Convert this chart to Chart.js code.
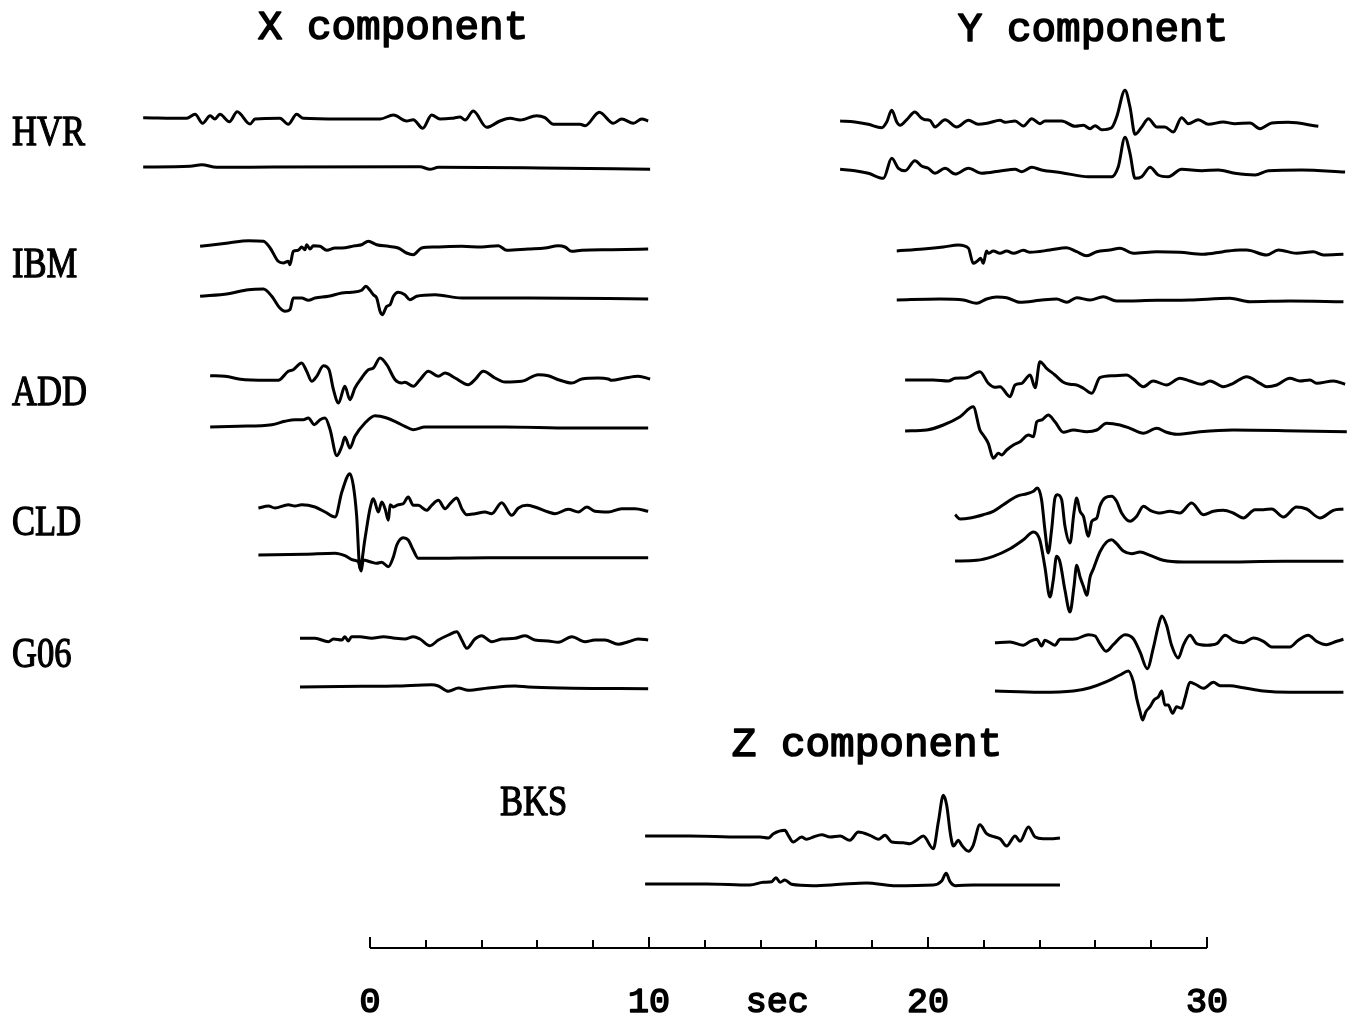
<html>
<head>
  <meta charset="utf-8">
  <title>Seismograms: observed vs synthetic</title>
  <script src="https://cdn.jsdelivr.net/npm/chart.js"></script>
  <style>
    body { margin: 0; background: white; }
    #wrap { width: 1347px; height: 1029px; position: relative; }
  </style>
</head>
<body>
<div id="wrap"><canvas id="seis"></canvas></div>
<script>
// time in sec, amplitude (arbitrary units, up = positive)
// each station: observed (upper) and synthetic (lower) trace

// ---- X component ----
const hvrXObs = [[-8.13,0.3],[-6.57,-0.3],[-6.27,3.7],[-6.00,-5.3],[-5.73,2.3],[-5.56,-1],[-5.38,3.7],[-5.04,-3.7],[-4.76,6.3],[-4.30,-6],[-4.12,-1],[-3.23,-0.3],[-2.93,-6.3],[-2.63,3.7],[-2.39,-0.3],[-1.08,-1],[0.36,-1],[0.84,3],[1.31,-3],[1.55,-1.7],[1.89,-10.3],[2.21,3],[2.51,-1],[2.93,-0.3],[3.23,1],[3.41,-2],[3.70,7],[4.18,-9.3],[4.66,-3],[5.02,-0.3],[5.38,-2],[5.97,2.3],[6.27,0.3],[6.57,-6.3],[7.53,-6.3],[7.71,-7.7],[8.22,5.7],[8.72,-5.3],[9.02,-1],[9.44,-5.3],[9.74,-1],[9.97,-3]];
const hvrXSyn = [[-8.13,0],[-6.45,0.7],[-6.03,2.3],[-5.50,-0.3],[-3.47,0],[1.79,0.3],[2.15,-2.3],[2.45,-0.3],[6.09,-1],[10.04,-2.3]];

const ibmXObs = [[-6.09,1.7],[-5.08,5],[-4.36,7.3],[-3.82,6.7],[-3.58,0],[-3.29,-13.3],[-3.11,-15],[-2.93,-13.3],[-2.87,-16.7],[-2.75,-3.3],[-2.57,-2.3],[-2.45,1],[-2.33,-1.7],[-2.27,3.3],[-2.15,-1],[-2.03,2.3],[-1.79,1.7],[-1.55,-2.3],[-1.25,0],[-1.01,0],[-0.54,2.3],[-0.30,3.3],[-0.06,6.7],[0.24,3.3],[0.66,1.7],[1.01,0],[1.31,-5],[1.55,-6.7],[1.85,0],[2.33,1],[3.29,1.7],[4.00,1],[4.60,2.3],[4.90,-2.3],[5.67,-1],[6.27,0],[6.75,2.3],[6.99,1],[7.23,-3.3],[7.59,-2.3],[8.66,-1.7],[9.97,-1]];
const ibmXSyn = [[-6.09,1.7],[-5.08,4.3],[-4.36,8.3],[-3.82,9],[-3.52,1.7],[-3.23,-10],[-3.05,-13.3],[-2.87,-11.7],[-2.75,0],[-2.45,0],[-2.21,-2.3],[-1.97,0],[-1.49,1.7],[-1.01,5],[-0.66,5.7],[-0.30,7.7],[-0.15,11.7],[0.00,7.7],[0.12,3.3],[0.24,0],[0.36,-13.3],[0.44,-16.7],[0.60,-8.3],[0.72,-6.7],[0.84,1.7],[1.01,5.7],[1.25,3.3],[1.43,-1.7],[1.67,1.7],[2.33,3.3],[3.29,0],[4.48,0],[5.67,0],[9.97,-1]];

const addXObs = [[-5.73,2.3],[-5.20,1.7],[-4.48,-1.7],[-3.29,-2.3],[-2.93,6.7],[-2.75,8.3],[-2.45,15],[-2.27,6.7],[-2.09,-3.3],[-1.91,1.7],[-1.67,12.3],[-1.47,8.3],[-1.31,-11.7],[-1.13,-25],[-0.90,-8.3],[-0.72,-21.7],[-0.54,-10],[-0.30,0],[-0.06,8.3],[0.12,10],[0.36,20],[0.60,13.3],[0.90,-1.7],[1.14,-5],[1.25,-4.3],[1.55,-8.3],[1.79,-1.7],[2.09,6.7],[2.45,1.7],[2.69,5],[3.05,0],[3.52,-6.7],[3.76,-1.7],[4.06,6.7],[4.48,0],[4.84,-4],[5.44,-3.3],[6.03,3.3],[6.39,2.3],[6.75,-1.7],[7.23,-5],[7.59,-1],[8.18,0],[8.54,-1],[8.66,-2.3],[9.14,0],[9.62,1.7],[10.04,-1]];
const addXSyn = [[-5.73,0],[-4.72,0.7],[-3.52,2.3],[-3.05,5.7],[-2.69,7.3],[-2.39,7.3],[-2.21,9],[-2.00,2.3],[-1.79,7.3],[-1.61,9],[-1.43,-2.7],[-1.19,-28.7],[-1.01,-19.3],[-0.90,-10],[-0.72,-21],[-0.54,-9.3],[-0.18,4],[0.18,11.3],[0.60,9],[0.96,4.7],[1.25,0.7],[1.55,-2.7],[1.97,0],[3.05,0],[4.84,0],[7.23,-1],[9.97,-1]];

const cldXObs = [[-4.00,-1],[-3.64,1],[-3.41,-1],[-2.93,2.3],[-2.69,1],[-2.45,2.3],[-1.97,0],[-1.61,-5],[-1.25,-10],[-1.01,15],[-0.72,33.3],[-0.60,21.7],[-0.48,-8.3],[-0.36,-61.7],[-0.18,-31.7],[0.00,-1.7],[0.12,8.3],[0.30,-5],[0.42,5],[0.54,-1.7],[0.66,-13.3],[0.72,2.3],[0.84,0],[1.01,2.3],[1.19,3.3],[1.37,10],[1.55,1.7],[1.73,1.7],[2.03,-3.3],[2.21,1.7],[2.45,6.7],[2.69,-1.7],[2.87,3.3],[3.11,9],[3.29,-1.7],[3.47,-7.7],[3.76,-6.7],[4.12,-5],[4.36,-6.7],[4.72,4.3],[5.08,-8.3],[5.32,-1],[5.62,1.7],[5.91,0],[6.39,-5],[6.63,-6.7],[7.11,-2.3],[7.47,-5],[7.77,0],[8.06,-4.3],[8.54,-5],[9.02,-1.7],[9.50,-1.7],[9.97,-4.3]];
const cldXSyn = [[-4.00,0],[-2.33,0.7],[-1.25,1.7],[-0.90,-0.7],[-0.60,-5],[-0.42,-6.7],[-0.32,-16],[-0.24,-5],[0.00,-6.7],[0.24,-8.3],[0.42,-7.3],[0.66,-11.7],[0.84,-1.7],[0.96,10],[1.19,17.3],[1.37,15],[1.55,5],[1.73,-3.3],[2.09,-3.3],[4.24,-2.7],[9.97,-2.7]];

const g06XObs = [[-2.51,0.7],[-1.97,0.7],[-1.49,-2.7],[-1.31,0],[-1.01,-1],[-0.90,2.3],[-0.78,-2],[-0.66,2.3],[-0.36,2.3],[0.06,0.7],[0.48,2.3],[0.90,0.7],[1.25,0],[1.55,2.3],[1.79,0],[2.15,-6.7],[2.45,-1],[2.81,4],[3.11,7.3],[3.29,-1],[3.47,-9.3],[3.76,0],[4.00,3.3],[4.36,-2.7],[4.72,0],[5.20,0.7],[5.56,3.3],[5.91,-1],[6.39,-2],[6.75,-3.3],[7.23,2.3],[7.71,-2.7],[8.06,-1],[8.42,-1],[8.90,-5.3],[9.26,-2.7],[9.62,0],[9.97,-1]];
const g06XSyn = [[-2.51,0],[-0.30,0.7],[0.90,1],[2.21,2.3],[2.45,1],[2.81,-4.3],[3.17,-1],[3.52,-3.3],[4.24,-1],[5.20,1],[5.67,0],[6.87,-1],[9.97,-1.7]];

// ---- Y component ----
const hvrYObs = [[16.85,1],[17.38,0],[17.86,-2.3],[18.34,-5.7],[18.52,0],[18.70,11.7],[18.88,0],[19.00,-3.3],[19.24,2.3],[19.53,10],[19.75,4.3],[19.89,2.3],[20.07,1.7],[20.25,-5],[20.61,2.3],[21.03,-5],[21.45,1.7],[21.80,-2.3],[22.16,-1],[22.58,1.7],[22.76,-0.3],[23.12,1],[23.42,-4],[23.72,3.3],[24.01,-1.7],[24.19,1],[24.79,1],[25.27,-4.3],[25.57,-3.3],[25.81,-6.7],[25.99,-3.7],[26.22,-7.7],[26.58,-5.7],[26.76,5],[27.06,31.7],[27.24,15],[27.42,-12.3],[27.66,-5],[27.90,3.3],[28.20,-5],[28.49,-5],[28.79,-10],[29.09,4.3],[29.33,-1.7],[29.69,2.3],[30.05,-2.3],[30.58,0],[31.00,-1.7],[31.54,-1],[31.90,-6.7],[32.32,-1],[32.91,-0.3],[33.99,-4.3]];
const hvrYSyn = [[16.85,0.7],[17.38,-0.7],[17.86,-3.3],[18.40,-8.3],[18.70,11.7],[18.94,1.7],[19.18,-0.7],[19.53,9.3],[19.77,4],[20.01,1.7],[20.25,-3.3],[20.61,1.7],[20.97,-4],[21.45,1.7],[21.92,-3.3],[22.64,-0.7],[23.12,0.7],[23.36,-1.7],[23.72,2.7],[24.07,0],[24.79,-2.7],[25.75,-6.7],[26.58,-6.7],[26.82,3.3],[27.06,32.7],[27.24,16.7],[27.42,-8.3],[27.66,-6.7],[27.96,2.7],[28.25,-5],[28.61,-6.7],[29.09,0.7],[29.81,-0.7],[30.41,0],[31.00,-3.3],[31.72,-5],[32.20,-0.7],[33.39,0],[34.95,-2]];

const ibmYObs = [[18.88,0],[19.83,2],[20.55,4],[21.09,6],[21.45,2.7],[21.62,-12.3],[21.77,-10],[21.89,-7.3],[21.98,-12.3],[22.10,0],[22.16,-2.3],[22.34,0],[22.58,-2.3],[22.82,0],[23.06,-2.3],[23.42,0.7],[23.66,-1.3],[24.37,1],[24.97,3.3],[25.33,-0.7],[25.69,-4.7],[26.05,-0.7],[26.52,1],[26.88,2.7],[27.36,-2.3],[28.20,-0.7],[29.03,-1.3],[29.87,-3.3],[30.58,-0.7],[31.18,1],[31.42,1],[32.14,-4],[32.56,1],[33.21,-2.3],[33.81,-0.7],[34.17,-4],[34.89,-3.3]];
const ibmYSyn = [[18.88,0],[20.43,1],[21.27,0],[21.74,-3.3],[22.10,1],[22.46,3],[22.82,2.3],[23.30,-2.3],[24.01,-0.3],[24.61,1],[24.97,-2.3],[25.33,2.3],[25.81,0],[26.28,3.3],[26.76,-1],[28.20,-0.3],[29.39,0],[30.82,1.7],[31.54,-1.7],[32.97,-1],[34.89,-1.7]];

const addYObs = [[19.18,1],[20.19,1],[20.73,0],[20.97,2.7],[21.39,3.3],[21.86,9.3],[22.16,-2.3],[22.40,-6.3],[22.58,-5.7],[22.94,-15.7],[23.12,-4],[23.36,-2.3],[23.66,6],[23.84,-6.7],[24.01,19.3],[24.25,12.7],[24.55,6],[24.85,-1.3],[25.09,-3.3],[25.33,-4],[25.57,-7.3],[25.87,-12.3],[26.16,3.3],[26.64,5.3],[27.12,6],[27.36,2],[27.72,-5.7],[28.07,0],[28.55,-4],[29.03,2.7],[29.39,0],[29.81,-3.3],[30.11,0],[30.58,-5.7],[30.94,-2.3],[31.42,4.3],[31.90,-2.3],[32.14,-5.7],[32.50,-4],[32.97,2.7],[33.33,0],[33.69,1],[33.93,-2.3],[34.53,0],[34.95,-3.3]];
const addYSyn = [[19.18,0],[19.95,1],[20.55,6],[21.15,14.3],[21.62,24.3],[21.86,1],[21.98,-4],[22.16,-12.3],[22.34,-27.3],[22.52,-22.3],[22.64,-24],[22.82,-19],[23.06,-14],[23.30,-10.7],[23.60,-4],[23.78,-5.7],[23.90,9.3],[24.07,11],[24.31,16],[24.55,9.3],[24.85,-1.3],[25.21,1],[25.69,-0.7],[26.05,1],[26.40,7.7],[26.88,6],[27.24,2.7],[27.72,-2.3],[28.20,2.7],[28.55,-1.3],[28.91,-3.3],[29.75,-0.7],[30.94,1],[33.33,0],[35.01,-0.7]];

const cldYObs = [[20.97,-1.7],[21.15,-6],[21.51,-5],[21.98,-1.7],[22.34,1.7],[22.70,8.3],[23.18,16.7],[23.54,19.3],[23.78,21.7],[23.92,25],[24.07,13.3],[24.19,-16.7],[24.31,-40],[24.43,-16.7],[24.55,15],[24.64,18.3],[24.79,13.3],[24.91,-13.3],[25.09,-30],[25.23,0],[25.33,15],[25.45,1.7],[25.57,-3.3],[25.75,-23.3],[25.87,-8.3],[26.05,-5],[26.16,6.7],[26.34,15],[26.58,16.7],[26.76,11.7],[26.94,0],[27.24,-8.3],[27.48,-3.3],[27.72,6.7],[27.96,2.7],[28.32,0],[28.67,1.7],[29.03,0],[29.45,10],[29.87,-1.7],[30.23,1.7],[30.58,2.7],[30.94,0],[31.30,-5],[31.72,3.3],[32.02,3.3],[32.32,4],[32.74,-4],[33.21,6],[33.57,4],[34.05,-5],[34.53,2.7],[34.89,4]];
const cldYSyn = [[20.97,0],[21.74,0.7],[22.34,4.7],[22.94,12.3],[23.42,21.3],[23.78,29],[24.01,20.7],[24.19,-6],[24.37,-36],[24.49,-19.3],[24.61,4.7],[24.73,-1],[24.91,-29.3],[25.09,-51],[25.23,-26],[25.33,-4.3],[25.45,-16],[25.57,-25.3],[25.69,-34.3],[25.81,-16],[25.93,-7.7],[26.16,9],[26.40,19],[26.58,21.3],[26.76,17.3],[27.00,10],[27.30,7.3],[27.60,9],[27.96,5.7],[28.43,0.7],[29.15,-1],[30.35,-1],[32.74,-0.3],[34.89,-0.3]];

const g06YObs = [[22.40,-0.7],[22.94,0],[23.42,-3.3],[23.66,0.7],[23.90,2.7],[24.07,-4],[24.19,1.7],[24.37,-0.7],[24.55,-3.3],[24.73,2.7],[24.97,2.7],[25.33,3.3],[25.75,7.3],[25.99,6],[26.16,-1.7],[26.38,-9.3],[26.64,-2.7],[27.06,7.3],[27.36,3.3],[27.60,-10],[27.86,-26.7],[28.07,-6.7],[28.26,16.7],[28.38,26],[28.55,16.7],[28.73,-3.3],[28.97,-16],[29.15,-3.3],[29.39,6.7],[29.63,-1.7],[29.99,-3.3],[30.35,-1.7],[30.65,6.7],[30.94,1.7],[31.30,-0.7],[31.66,4],[32.02,0.7],[32.32,-5],[32.97,-5],[33.27,1.7],[33.63,6.7],[33.93,0.7],[34.29,-2.7],[34.65,0.7],[34.89,2.7]];
const g06YSyn = [[22.40,0],[24.01,-1.3],[25.21,0],[25.81,3.3],[26.40,9.3],[26.88,16],[27.18,20],[27.36,9.3],[27.48,-7.3],[27.60,-20.7],[27.69,-29],[27.81,-20.7],[27.96,-15.7],[28.10,-9],[28.26,-5.7],[28.38,0],[28.49,-14],[28.61,-14],[28.77,-22.3],[28.91,-15.7],[29.09,-17.3],[29.21,-7.3],[29.39,8.7],[29.63,6],[29.87,2.7],[30.23,8.7],[30.47,5.3],[30.82,5.3],[31.30,3.3],[32.02,0],[32.97,-1.3],[34.89,-1.3]];

// ---- Z component ----
const bksZObs = [[9.86,0],[11.47,0],[13.26,-1],[13.98,-1],[14.28,-2],[14.46,2.3],[14.87,5.7],[14.99,0.7],[15.17,-6],[15.47,-1],[15.65,-3.3],[15.89,-1],[16.19,1.3],[16.49,-1],[16.85,0],[17.20,-4.3],[17.50,4],[17.92,0.7],[18.22,-3.3],[18.46,0.7],[18.70,-6],[19.11,-6.7],[19.35,-7.7],[19.59,-4.3],[19.83,0],[20.19,-12.7],[20.37,14],[20.55,40.7],[20.67,30.7],[20.81,0.7],[20.91,-10],[21.09,-4.3],[21.21,-9.3],[21.45,-15.3],[21.62,-9.3],[21.86,11.3],[22.10,2.3],[22.40,-1],[22.58,-2.7],[22.82,-10],[23.12,0],[23.30,-5.3],[23.60,9],[23.84,-1],[24.13,-2.7],[24.49,-2.7],[24.73,-2]];
const bksZSyn = [[9.86,0],[12.07,0],[13.62,-1],[14.10,1.7],[14.40,2.3],[14.55,6.3],[14.70,1.7],[14.87,4],[15.11,-0.3],[15.89,-1.7],[16.85,-0.3],[17.80,1],[18.76,-1.7],[20.19,-1],[20.49,3],[20.65,10.7],[20.79,2.3],[20.97,-1.7],[21.62,-1],[24.73,-1]];

const traces = [hvrXObs, hvrXSyn, ibmXObs, ibmXSyn, addXObs, addXSyn, cldXObs, cldXSyn, g06XObs, g06XSyn,
                hvrYObs, hvrYSyn, ibmYObs, ibmYSyn, addYObs, addYSyn, cldYObs, cldYSyn, g06YObs, g06YSyn,
                bksZObs, bksZSyn];
// vertical offset of each trace (scale units, measured downwards from top)
const traceOffsets = [118, 167, 248, 298, 378, 427, 507, 555, 639, 687,
                      122, 170, 251, 300, 381, 431, 513, 561, 642, 691,
                      836, 884];

const axisTicks = [0, 2, 4, 6, 8, 10, 12, 14, 16, 18, 20, 22, 24, 26, 28, 30];
const axisLabels = [0, 10, 20, 30];

const stations = [
  { name: 'HVR', x: 12, y: 134 },
  { name: 'IBM', x: 12, y: 266 },
  { name: 'ADD', x: 12, y: 394 },
  { name: 'CLD', x: 12, y: 524 },
  { name: 'G06', x: 12, y: 656 },
  { name: 'BKS', x: 500, y: 804 }
];
const titles = [
  { text: 'X component', x: 393, y: 28 },
  { text: 'Y component', x: 1093, y: 30 },
  { text: 'Z component', x: 867, y: 745 }
];

const datasets = traces.map((tr, i) => ({
  data: tr.map(p => ({ x: p[0], y: traceOffsets[i] - p[1] })),
  borderColor: '#000',
  borderWidth: 3,
  pointRadius: 0,
  fill: false,
  cubicInterpolationMode: 'monotone',
  clip: false
}));

// draw text filled and lightly stroked to get the heavier print look
function inkText(ctx, s, x, y, w) {
  ctx.lineWidth = w;
  ctx.strokeText(s, x, y);
  ctx.fillText(s, x, y);
}

const decor = {
  id: 'decor',
  afterDraw(chart) {
    const ctx = chart.ctx;
    const xs = chart.scales.x;
    const axisY = 948;
    ctx.save();
    ctx.strokeStyle = '#000';
    ctx.lineWidth = 2;
    ctx.beginPath();
    ctx.moveTo(xs.getPixelForValue(0), axisY);
    ctx.lineTo(xs.getPixelForValue(30), axisY);
    axisTicks.forEach(t => {
      const px = Math.round(xs.getPixelForValue(t));
      const len = (t % 10 === 0) ? 11 : 8;
      ctx.moveTo(px, axisY);
      ctx.lineTo(px, axisY - len);
    });
    ctx.stroke();

    ctx.fillStyle = '#000';
    ctx.lineJoin = 'round';
    ctx.textAlign = 'center';
    ctx.textBaseline = 'middle';
    ctx.font = '35px "Liberation Mono", monospace';
    axisLabels.forEach(v => inkText(ctx, String(v), xs.getPixelForValue(v), 1003, 1.6));
    inkText(ctx, 'sec', xs.getPixelForValue(14.6), 1003, 1.6);

    ctx.font = '41px "Liberation Mono", monospace';
    titles.forEach(t => inkText(ctx, t.text, t.x, t.y, 1.6));

    // station names: slightly condensed and tall, like the original lettering
    ctx.textAlign = 'left';
    ctx.font = '36px "Liberation Serif", serif';
    stations.forEach(s => {
      ctx.save();
      ctx.translate(s.x, s.y);
      ctx.scale(0.96, 1.15);
      inkText(ctx, s.name, 0, 0, 1.1);
      ctx.restore();
    });
    ctx.restore();
  }
};

new Chart(document.getElementById('seis'), {
  type: 'line',
  data: { datasets: datasets },
  options: {
    responsive: true,
    maintainAspectRatio: false,
    animation: false,
    events: [],
    layout: { padding: 0 },
    plugins: { legend: { display: false }, tooltip: { enabled: false } },
    scales: {
      x: { type: 'linear', min: -13.262, max: 35.018, display: false },
      y: { type: 'linear', min: 0, max: 1029, reverse: true, display: false }
    }
  },
  plugins: [decor]
});
</script>
</body>
</html>
